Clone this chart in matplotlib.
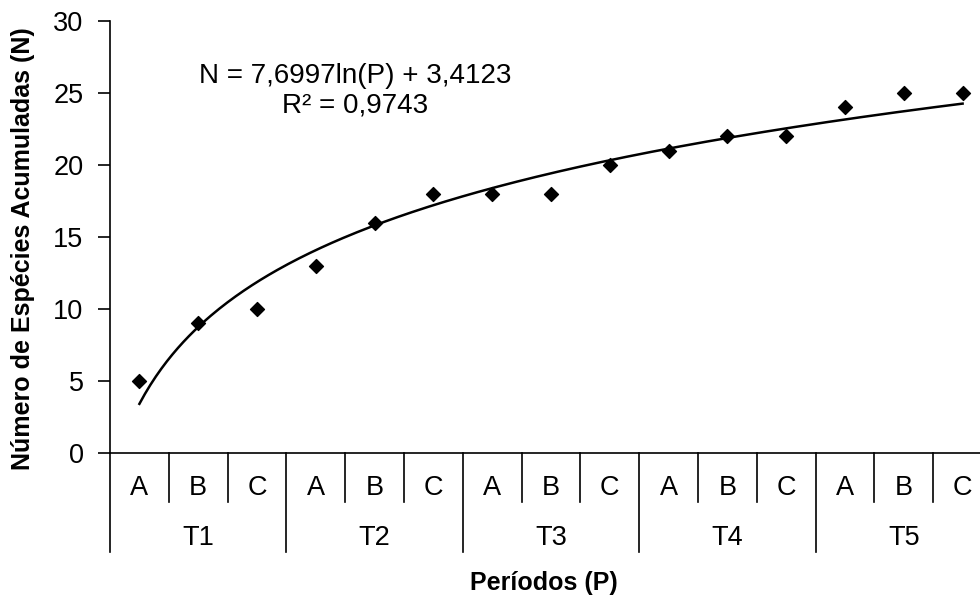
import numpy as np
import matplotlib
matplotlib.use("Agg")
import matplotlib.pyplot as plt

plt.rcParams['font.family'] = ['Liberation Sans', 'DejaVu Sans']

subperiods = ["A", "B", "C"]
groups = ["T1", "T2", "T3", "T4", "T5"]
species = [5, 9, 10, 13, 16, 18, 18, 18, 20, 21, 22, 22, 24, 25, 25]
coef_a = 7.6997
coef_b = 3.4123
r2_text = "0,9743"

fig = plt.figure(figsize=(9.8, 5.98), dpi=100)
ax = fig.add_axes([110/980, 145/598, 882/980, 432/598])

n = len(species)
P = np.arange(1, n + 1)
xpos = P - 0.5

# trend line
pp = np.linspace(1, n, 300)
ax.plot(pp - 0.5, coef_a * np.log(pp) + coef_b, color='black', lw=1.8, zorder=2)
ax.scatter(xpos, species, marker='D', s=50, color='black', zorder=3)

ax.set_xlim(0, n)
ax.set_ylim(0, 30)
ax.set_yticks(range(0, 31, 5))
ax.tick_params(axis='y', labelsize=19.5, length=9, width=1.2, pad=10, direction='out')
ax.set_xticks([])
for s in ['top', 'right']:
    ax.spines[s].set_visible(False)
ax.spines['left'].set_linewidth(1.2)
ax.spines['bottom'].set_linewidth(1.2)

tr = ax.get_xaxis_transform()
short = 49 / 432
long_ = 99 / 432
for i in range(n + 1):
    h = long_ if i % 3 == 0 else short
    ax.plot([i, i], [0, -h], transform=tr, color='black', lw=1.2, clip_on=False)

for i in range(n):
    ax.text(i + 0.5, -35 / 432, subperiods[i % 3], transform=tr, ha='center',
            va='center', fontsize=19.5)
for g, name in enumerate(groups):
    ax.text(g * 3 + 1.5, -85 / 432, name, transform=tr, ha='center',
            va='center', fontsize=19.5)

fig.text(544 / 980, 1 - 583 / 598, "Períodos (P)", ha='center', va='center',
         fontsize=18, fontweight='bold')
fig.text(23 / 980, 1 - 249 / 598, "Número de Espécies Acumuladas (N)", ha='center',
         va='center', rotation=90, fontsize=18, fontweight='bold')

eq = f"N = {str(coef_a).replace('.', ',')}ln(P) + {str(coef_b).replace('.', ',')}"
fig.text(355 / 980, 1 - 76 / 598, eq, ha='center', va='center', fontsize=20)
fig.text(355 / 980, 1 - 106 / 598, "R² = " + r2_text, ha='center', va='center', fontsize=20)

fig.savefig("out.png", dpi=100)
